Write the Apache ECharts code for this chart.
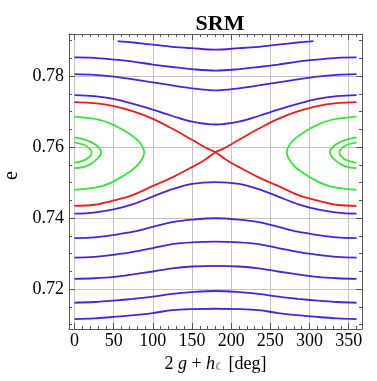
<!DOCTYPE html>
<html><head><meta charset="utf-8">
<script src="https://cdn.jsdelivr.net/npm/echarts@6/dist/echarts.min.js"></script>
<style>html,body{margin:0;padding:0;background:#fff}#c{width:377px;height:381px}</style>
</head><body><div id="c"></div>
<script>
// ---- tick values ----
const xMajorTicks = [0, 50, 100, 150, 200, 250, 300, 350];
const xMinorTicks = [0,10,20,30,40,50,60,70,80,90,100,110,120,130,140,150,160,170,180,190,200,210,220,230,240,250,260,270,280,290,300,310,320,330,340,350,360];
const yMajorTicks = [0.72, 0.74, 0.76, 0.78];
const yMinorTicks = [0.710,0.715,0.720,0.725,0.730,0.735,0.740,0.745,0.750,0.755,0.760,0.765,0.770,0.775,0.780,0.785,0.790];

// ---- circulating (blue) curves: [angle, e] ----
const blueTop = [[55,0.7899],[75,0.7895],[100,0.7889],[125,0.7883],[150,0.7879],[180,0.7875],[210,0.7879],[235,0.7883],[260,0.7889],[285,0.7895],[305,0.7899]];
const blue1 = [[0,0.7853],[25,0.7852],[50,0.7847],[75,0.7841],[100,0.7833],[125,0.7826],[150,0.7820],[180,0.7816],[210,0.7820],[235,0.7826],[260,0.7833],[285,0.7841],[310,0.7847],[335,0.7852],[360,0.7853]];
const blue2 = [[0,0.7806],[25,0.7804],[50,0.7799],[75,0.7791],[100,0.7783],[125,0.7774],[150,0.7766],[180,0.7760],[210,0.7766],[235,0.7774],[260,0.7783],[285,0.7791],[310,0.7799],[335,0.7804],[360,0.7806]];
const blue3 = [[0,0.7747],[25,0.7744],[50,0.7736],[75,0.7722],[100,0.7706],[125,0.7688],[150,0.7672],[180,0.7664],[210,0.7672],[235,0.7688],[260,0.7706],[285,0.7722],[310,0.7736],[335,0.7744],[360,0.7747]];
const blue4 = [[0,0.7413],[25,0.7416],[50,0.7425],[75,0.7440],[100,0.7461],[125,0.7482],[150,0.7497],[180,0.7502],[210,0.7497],[235,0.7482],[260,0.7461],[285,0.7440],[310,0.7425],[335,0.7416],[360,0.7413]];
const blue5 = [[0,0.7344],[25,0.7346],[50,0.7353],[75,0.7362],[100,0.7376],[125,0.7389],[150,0.7396],[180,0.7400],[210,0.7396],[235,0.7389],[260,0.7376],[285,0.7362],[310,0.7353],[335,0.7346],[360,0.7344]];
const blue6 = [[0,0.7289],[25,0.7291],[50,0.7297],[75,0.7305],[100,0.7316],[125,0.7327],[150,0.7332],[180,0.7334],[210,0.7332],[235,0.7327],[260,0.7316],[285,0.7305],[310,0.7297],[335,0.7291],[360,0.7289]];
const blue7 = [[0,0.7229],[25,0.7231],[50,0.7235],[75,0.7242],[100,0.7250],[125,0.7259],[150,0.7264],[180,0.7266],[210,0.7264],[235,0.7259],[260,0.7250],[285,0.7242],[310,0.7235],[335,0.7231],[360,0.7229]];
const blue8 = [[0,0.7162],[25,0.7164],[50,0.7168],[75,0.7173],[100,0.7179],[125,0.7187],[150,0.7192],[180,0.7195],[210,0.7192],[235,0.7187],[260,0.7179],[285,0.7173],[310,0.7168],[335,0.7164],[360,0.7162]];
const blue9 = [[0,0.7116],[25,0.7118],[50,0.7122],[75,0.7127],[100,0.7133],[125,0.7141],[150,0.7144],[180,0.7145],[210,0.7144],[235,0.7141],[260,0.7133],[285,0.7127],[310,0.7122],[335,0.7118],[360,0.7116]];

// ---- separatrix (red) ----
const redDown = [[0,0.7727],[25,0.7724],[50,0.7716],[75,0.7701],[100,0.7680],[125,0.7652],[150,0.7621],[168,0.7598],[180,0.7586],[192,0.7567],[210,0.7544],[235,0.7515],[260,0.7491],[285,0.7466],[310,0.7450],[335,0.7438],[360,0.7435]];
const redUp = [[0,0.7435],[25,0.7438],[50,0.7450],[75,0.7466],[100,0.7491],[125,0.7515],[150,0.7544],[168,0.7567],[180,0.7586],[192,0.7598],[210,0.7621],[235,0.7652],[260,0.7680],[285,0.7701],[310,0.7716],[335,0.7724],[360,0.7727]];

// ---- librating (green) curves ----
const greenOuterL = [[0,0.7686],[32,0.7677],[50,0.7663],[70,0.7638],[83,0.7614],[89,0.7586],[83,0.7556],[70,0.7530],[50,0.7504],[32,0.7489],[0,0.7480]];
const greenOuterR = [[360,0.7686],[328,0.7677],[310,0.7663],[290,0.7638],[277,0.7614],[271,0.7586],[277,0.7556],[290,0.7530],[310,0.7504],[328,0.7489],[360,0.7480]];
const greenMidL = [[0,0.7628],[14,0.7621],[27,0.7607],[34,0.7586],[27,0.7563],[14,0.7546],[0,0.7541]];
const greenMidR = [[360,0.7628],[346,0.7621],[333,0.7607],[326,0.7586],[333,0.7563],[346,0.7546],[360,0.7541]];
const greenInL = [[0,0.7614],[12,0.7607],[19,0.7597],[22,0.7586],[19,0.7573],[12,0.7563],[0,0.7556]];
const greenInR = [[360,0.7614],[348,0.7607],[341,0.7597],[338,0.7586],[341,0.7573],[348,0.7563],[360,0.7556]];

const BLUE = '#4b22d8', RED = '#e3201e', GREEN = '#3de03d';
const FRAME = '#555555', GRID = '#c4c4c4';
const SERIF = 'Liberation Serif';

const blues = [blueTop, blue1, blue2, blue3, blue4, blue5, blue6, blue7, blue8, blue9];
const reds = [redDown, redUp];
const greens = [greenOuterL, greenOuterR, greenMidL, greenMidR, greenInL, greenInR];

function mk(data, color) {
  return { type: 'line', data: data, xAxisIndex: 0, yAxisIndex: 0, smooth: 0.35,
    showSymbol: false, silent: true, lineStyle: { color: color, width: 1.8 } };
}
const series = [];
blues.forEach(d => series.push(mk(d, BLUE)));
greens.forEach(d => series.push(mk(d, GREEN)));
reds.forEach(d => series.push(mk(d, RED)));

const XMIN = -7, XMAX = 367, YMIN = 0.7088, YMAX = 0.7919;

function xAx(pos, ticks, len, main, labels) {
  return { type: 'value', position: pos, min: XMIN, max: XMAX,
    axisLine: { show: main, onZero: false, lineStyle: { color: FRAME, width: 1 } },
    axisTick: { show: true, inside: true, length: len, customValues: ticks, lineStyle: { color: FRAME } },
    axisLabel: labels ? { show: true, customValues: ticks, color: '#000', fontFamily: SERIF, fontSize: 18, margin: 3 } : { show: false },
    splitLine: { show: labels, lineStyle: { color: GRID, width: 1 } },
    name: labels ? '{a|2 }{i|g}{a| + }{i|h}{s|☾}{a| [deg]}' : '',
    nameLocation: 'middle', nameGap: 25,
    nameTextStyle: { rich: {
      a: { fontFamily: SERIF, fontSize: 18, color: '#000' },
      i: { fontFamily: SERIF, fontSize: 18, fontStyle: 'italic', color: '#000' },
      s: { fontFamily: 'DejaVu Sans', fontSize: 10, color: '#000', padding: [8, 0, 0, 0] } } }
  };
}
function yAx(pos, ticks, len, main, labels) {
  return { type: 'value', position: pos, min: YMIN, max: YMAX,
    axisLine: { show: main, onZero: false, lineStyle: { color: FRAME, width: 1 } },
    axisTick: { show: true, inside: true, length: len, customValues: ticks, lineStyle: { color: FRAME } },
    axisLabel: labels ? { show: true, customValues: ticks, color: '#000', fontFamily: SERIF, fontSize: 18, margin: 5,
      formatter: v => v.toFixed(2) } : { show: false },
    splitLine: { show: labels, lineStyle: { color: GRID, width: 1 } },
    name: labels ? 'e' : '', nameLocation: 'middle', nameGap: 45, nameRotate: 90,
    nameTextStyle: { fontFamily: SERIF, fontSize: 20, color: '#000', padding: [0, 0, 0, 12] }
  };
}

const chart = echarts.init(document.getElementById('c'), null, { renderer: 'canvas' });
chart.setOption({
  animation: false,
  backgroundColor: '#fff',
  title: { text: 'SRM', left: 215, top: 8, textAlign: 'center',
    textStyle: { fontFamily: SERIF, fontSize: 22, fontWeight: 'bold', color: '#000' } },
  grid: { left: 69, right: 15, top: 34, bottom: 52, containLabel: false, outerBoundsMode: 'none' },
  xAxis: [ xAx('bottom', xMajorTicks, 6, true, true), xAx('bottom', xMinorTicks, 3, false, false),
           xAx('top', xMajorTicks, 6, true, false), xAx('top', xMinorTicks, 3, false, false) ],
  yAxis: [ yAx('left', yMajorTicks, 6, true, true), yAx('left', yMinorTicks, 3, false, false),
           yAx('right', yMajorTicks, 6, true, false), yAx('right', yMinorTicks, 3, false, false) ],
  series: series
});
</script></body></html>
